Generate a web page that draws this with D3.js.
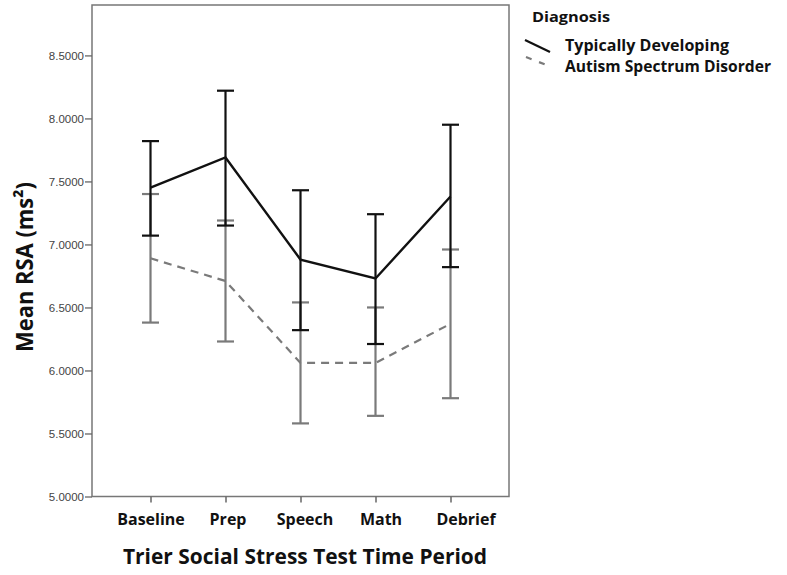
<!DOCTYPE html>
<html><head><meta charset="utf-8">
<script src="https://cdn.jsdelivr.net/npm/d3@7"></script>
<style>body{margin:0;background:#fff}svg{display:block}</style>
</head><body>
<svg id="c" width="787" height="575"></svg>
<script>
const periods = ["Baseline","Prep","Speech","Math","Debrief"];
const tdMean  = [7.45, 7.69, 6.88, 6.73, 7.38];
const tdLow   = [7.07, 7.15, 6.32, 6.21, 6.82];
const tdHigh  = [7.82, 8.22, 7.43, 7.24, 7.95];
const asdMean = [6.89, 6.71, 6.06, 6.06, 6.37];
const asdLow  = [6.38, 6.23, 5.58, 5.64, 5.78];
const asdHigh = [7.40, 7.19, 6.54, 6.50, 6.96];
const yTicks  = [5.0, 5.5, 6.0, 6.5, 7.0, 7.5, 8.0, 8.5];
const seriesNames = ["Typically Developing","Autism Spectrum Disorder"];

const FONT = "'Open Sans', sans-serif";
const svg = d3.select("#c");
const L = 92, R = 509, T = 5, B = 496.5;
const x = d3.scalePoint().domain(periods).range([L, R]).padding(0.78);
const y = d3.scaleLinear().domain([5.0, 8.9]).range([B, T]);

// frame
svg.append("rect").attr("x", L).attr("y", T).attr("width", R-L).attr("height", B-T)
  .attr("fill","none").attr("stroke","#777").attr("stroke-width",1.5);

// y axis
const ya = svg.append("g").attr("transform",`translate(${L},0)`)
  .call(d3.axisLeft(y).tickValues(yTicks).tickSize(7).tickPadding(1).tickFormat(d3.format(".4f")));
ya.select(".domain").remove();
ya.selectAll("line").attr("stroke","#666").attr("stroke-width",1.3);
ya.selectAll("text").attr("font-family","'Liberation Sans', Arial, sans-serif").attr("font-size",11.5).attr("fill","#444");

// x axis
const xa = svg.append("g").attr("transform",`translate(0,${B})`)
  .call(d3.axisBottom(x).tickSize(6).tickPadding(11));
xa.select(".domain").remove();
xa.selectAll("line").attr("stroke","#666").attr("stroke-width",1.5);
xa.selectAll("text").attr("font-family",FONT).attr("font-weight","bold")
  .attr("font-size",16).attr("fill","#111").attr("dx", (d,i)=> i==4 ? 15 : (i==2 ? 4 : (i==3 ? 5 : (i==1 ? 2 : 0))));

// titles
svg.append("text").attr("x", 305).attr("y", 564).attr("text-anchor","middle")
  .attr("font-family",FONT).attr("font-weight","bold").attr("font-size",21).attr("fill","#111")
  .attr("textLength",364).attr("lengthAdjust","spacingAndGlyphs")
  .text("Trier Social Stress Test Time Period");
svg.append("text").attr("transform","translate(33,267) rotate(-90)").attr("text-anchor","middle")
  .attr("font-family",FONT).attr("font-weight","bold").attr("font-size",23).attr("fill","#111")
  .attr("textLength",170).attr("lengthAdjust","spacingAndGlyphs")
  .text("Mean RSA (ms²)");

function drawSeries(mean, low, high, color, width, dash) {
  const g = svg.append("g");
  periods.forEach((p,i) => {
    const cx = x(p);
    g.append("line").attr("x1",cx).attr("x2",cx).attr("y1",y(low[i])).attr("y2",y(high[i]))
      .attr("stroke",color).attr("stroke-width",2.2);
    [low[i], high[i]].forEach(v => g.append("line").attr("x1",cx-8.5).attr("x2",cx+8.5)
      .attr("y1",y(v)).attr("y2",y(v)).attr("stroke",color).attr("stroke-width",2.2));
  });
  const line = d3.line().x((d,i)=>x(periods[i])).y(d=>y(d));
  g.append("path").datum(mean).attr("d",line).attr("fill","none").attr("stroke",color)
    .attr("stroke-width",width).attr("stroke-dasharray",dash);
}
drawSeries(asdMean, asdLow, asdHigh, "#7a7a7a", 2.2, "8,6");
drawSeries(tdMean, tdLow, tdHigh, "#111", 2.4, null);

// legend
const lg = svg.append("g");
lg.append("text").attr("x",532).attr("y",22).attr("font-family",FONT).attr("font-weight","bold")
  .attr("font-size",15).attr("fill","#111").attr("textLength",78).attr("lengthAdjust","spacingAndGlyphs").text("Diagnosis");
lg.append("line").attr("x1",525).attr("y1",40).attr("x2",550).attr("y2",52).attr("stroke","#111").attr("stroke-width",2.2);
lg.append("line").attr("x1",526).attr("y1",57).attr("x2",549).attr("y2",66).attr("stroke","#7a7a7a").attr("stroke-width",2.2).attr("stroke-dasharray","6,8");
lg.append("text").attr("x",565).attr("y",51).attr("font-family",FONT).attr("font-weight","bold")
  .attr("font-size",16.5).attr("fill","#111").attr("textLength",164).attr("lengthAdjust","spacingAndGlyphs").text(seriesNames[0]);
lg.append("text").attr("x",565).attr("y",72).attr("font-family",FONT).attr("font-weight","bold")
  .attr("font-size",16.5).attr("fill","#111").attr("textLength",206).attr("lengthAdjust","spacingAndGlyphs").text(seriesNames[1]);
</script>
</body></html>
